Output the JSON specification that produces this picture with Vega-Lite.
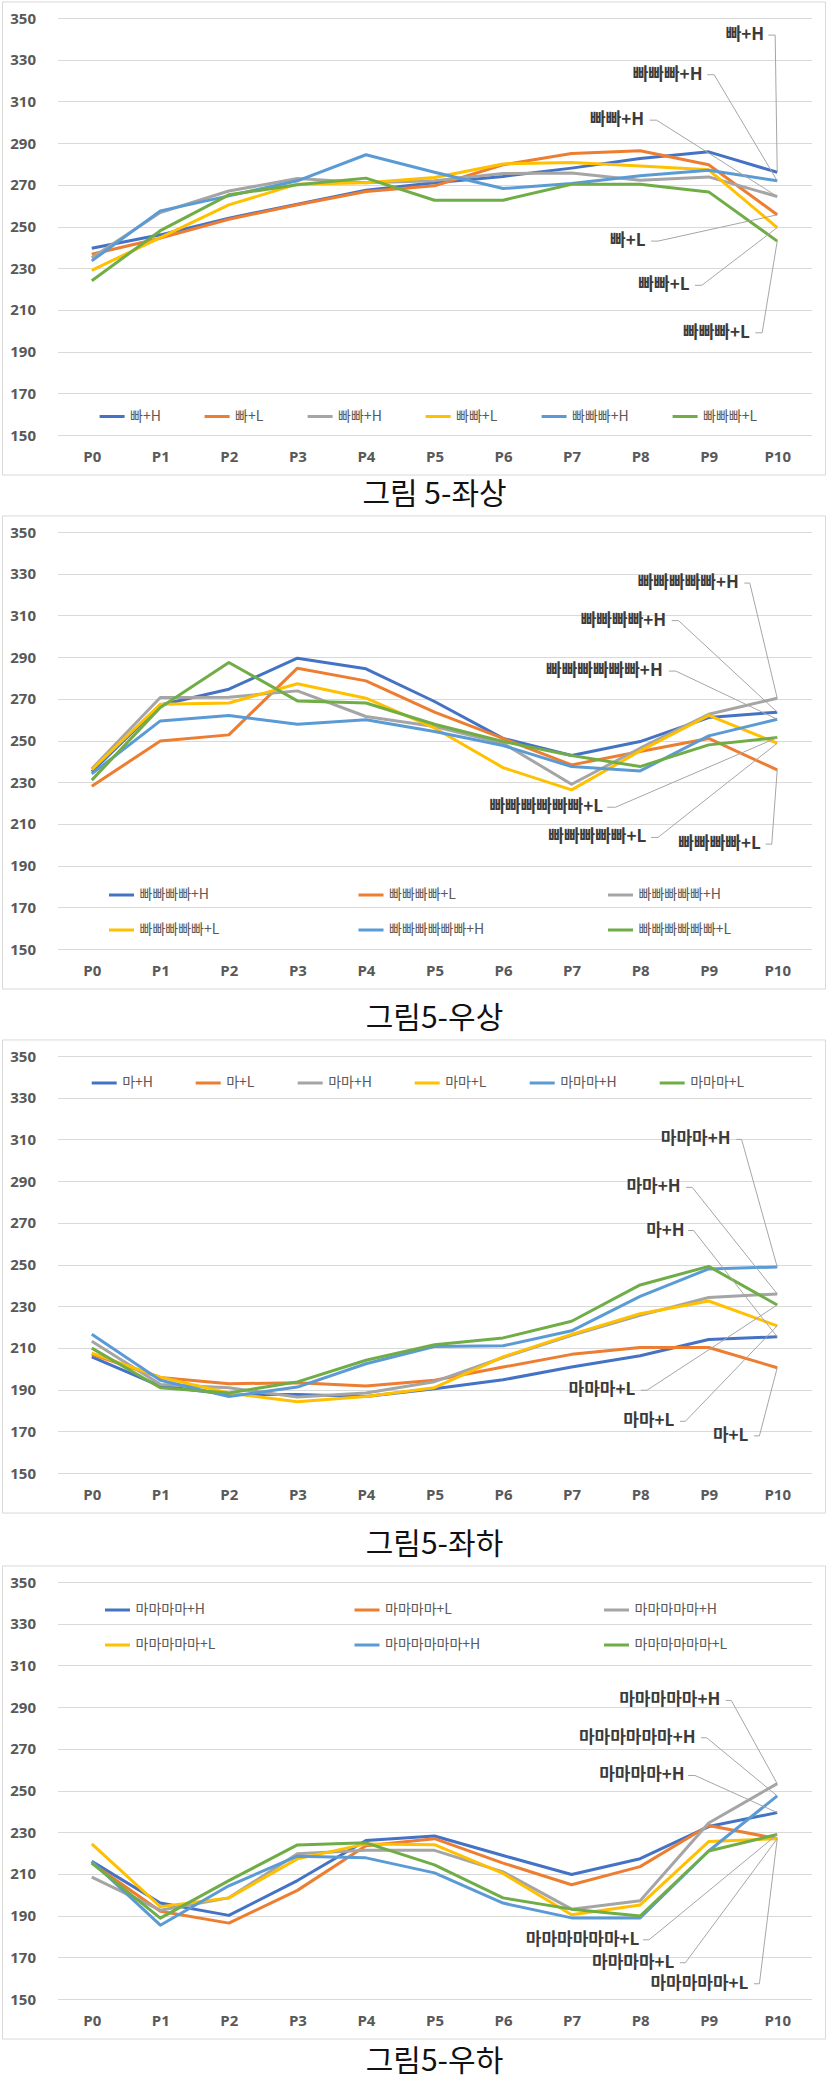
{
  "$schema": "https://vega.github.io/schema/vega-lite/v6.json",
  "background": "white",
  "padding": {"left": 1.5, "top": 1, "right": 2, "bottom": 0},
  "spacing": 5,
  "config": {
    "view": {"stroke": null},
    "title": {"font": "Noto Sans CJK KR", "fontSize": 30, "fontWeight": "normal", "color": "#111111", "anchor": "middle"},
    "axis": {"labelFont": "Open Sans", "labelFontSize": 15, "labelFontWeight": "bold", "labelColor": "#595959", "domain": false, "ticks": false, "tickSize": 0, "labelFlush": false, "labelOverlap": false},
    "legend": {"labelFont": "Noto Sans CJK KR", "labelFontSize": 14, "labelColor": "#595959", "symbolType": "stroke", "symbolSize": 625, "symbolStrokeWidth": 3, "labelOffset": 4, "padding": 0, "orient": "none", "direction": "horizontal", "title": null}
  },
  "resolve": {"scale": {"color": "independent"}, "legend": {"color": "independent"}},
  "datasets": {
    "s1": [
      {"s":"빠+H","p":0,"v":239.6},{"s":"빠+H","p":1,"v":246},{"s":"빠+H","p":2,"v":254},{"s":"빠+H","p":3,"v":260.7},{"s":"빠+H","p":4,"v":267.4},{"s":"빠+H","p":5,"v":271},{"s":"빠+H","p":6,"v":274},{"s":"빠+H","p":7,"v":278},{"s":"빠+H","p":8,"v":282.6},{"s":"빠+H","p":9,"v":285.8},{"s":"빠+H","p":10,"v":276},
      {"s":"빠+L","p":0,"v":236.7},{"s":"빠+L","p":1,"v":244.4},{"s":"빠+L","p":2,"v":253.5},{"s":"빠+L","p":3,"v":260.4},{"s":"빠+L","p":4,"v":266.8},{"s":"빠+L","p":5,"v":269.5},{"s":"빠+L","p":6,"v":279.6},{"s":"빠+L","p":7,"v":285},{"s":"빠+L","p":8,"v":286.3},{"s":"빠+L","p":9,"v":279.6},{"s":"빠+L","p":10,"v":255.6},
      {"s":"빠빠+H","p":0,"v":235},{"s":"빠빠+H","p":1,"v":256.7},{"s":"빠빠+H","p":2,"v":267},{"s":"빠빠+H","p":3,"v":273},{"s":"빠빠+H","p":4,"v":271},{"s":"빠빠+H","p":5,"v":272},{"s":"빠빠+H","p":6,"v":275.4},{"s":"빠빠+H","p":7,"v":275.7},{"s":"빠빠+H","p":8,"v":272.2},{"s":"빠빠+H","p":9,"v":273.8},{"s":"빠빠+H","p":10,"v":264.4},
      {"s":"빠빠+L","p":0,"v":229},{"s":"빠빠+L","p":1,"v":244.7},{"s":"빠빠+L","p":2,"v":260.4},{"s":"빠빠+L","p":3,"v":270.3},{"s":"빠빠+L","p":4,"v":271},{"s":"빠빠+L","p":5,"v":273.5},{"s":"빠빠+L","p":6,"v":280},{"s":"빠빠+L","p":7,"v":280.7},{"s":"빠빠+L","p":8,"v":279},{"s":"빠빠+L","p":9,"v":277.2},{"s":"빠빠+L","p":10,"v":249.5},
      {"s":"빠빠빠+H","p":0,"v":233.5},{"s":"빠빠빠+H","p":1,"v":257.5},{"s":"빠빠빠+H","p":2,"v":264.7},{"s":"빠빠빠+H","p":3,"v":271.9},{"s":"빠빠빠+H","p":4,"v":284.4},{"s":"빠빠빠+H","p":5,"v":276},{"s":"빠빠빠+H","p":6,"v":268.2},{"s":"빠빠빠+H","p":7,"v":270.6},{"s":"빠빠빠+H","p":8,"v":274.3},{"s":"빠빠빠+H","p":9,"v":277},{"s":"빠빠빠+H","p":10,"v":271.9},
      {"s":"빠빠빠+L","p":0,"v":224},{"s":"빠빠빠+L","p":1,"v":248},{"s":"빠빠빠+L","p":2,"v":265.2},{"s":"빠빠빠+L","p":3,"v":270},{"s":"빠빠빠+L","p":4,"v":273.2},{"s":"빠빠빠+L","p":5,"v":262.6},{"s":"빠빠빠+L","p":6,"v":262.6},{"s":"빠빠빠+L","p":7,"v":270.3},{"s":"빠빠빠+L","p":8,"v":270.3},{"s":"빠빠빠+L","p":9,"v":266.6},{"s":"빠빠빠+L","p":10,"v":243}
    ],
    "s2": [
      {"s":"빠빠빠빠+H","p":0,"v":235},{"s":"빠빠빠빠+H","p":1,"v":267},{"s":"빠빠빠빠+H","p":2,"v":274.6},{"s":"빠빠빠빠+H","p":3,"v":289.5},{"s":"빠빠빠빠+H","p":4,"v":284.4},{"s":"빠빠빠빠+H","p":5,"v":268.7},{"s":"빠빠빠빠+H","p":6,"v":251},{"s":"빠빠빠빠+H","p":7,"v":242.8},{"s":"빠빠빠빠+H","p":8,"v":249.5},{"s":"빠빠빠빠+H","p":9,"v":261},{"s":"빠빠빠빠+H","p":10,"v":263.6},
      {"s":"빠빠빠빠+L","p":0,"v":228},{"s":"빠빠빠빠+L","p":1,"v":249.8},{"s":"빠빠빠빠+L","p":2,"v":252.7},{"s":"빠빠빠빠+L","p":3,"v":284.7},{"s":"빠빠빠빠+L","p":4,"v":278.6},{"s":"빠빠빠빠+L","p":5,"v":263.6},{"s":"빠빠빠빠+L","p":6,"v":251},{"s":"빠빠빠빠+L","p":7,"v":238.3},{"s":"빠빠빠빠+L","p":8,"v":244.7},{"s":"빠빠빠빠+L","p":9,"v":251},{"s":"빠빠빠빠+L","p":10,"v":235.9},
      {"s":"빠빠빠빠빠+H","p":0,"v":236.4},{"s":"빠빠빠빠빠+H","p":1,"v":270.6},{"s":"빠빠빠빠빠+H","p":2,"v":270.8},{"s":"빠빠빠빠빠+H","p":3,"v":273.8},{"s":"빠빠빠빠빠+H","p":4,"v":261.5},{"s":"빠빠빠빠빠+H","p":5,"v":256.7},{"s":"빠빠빠빠빠+H","p":6,"v":248.7},{"s":"빠빠빠빠빠+H","p":7,"v":229},{"s":"빠빠빠빠빠+H","p":8,"v":246.3},{"s":"빠빠빠빠빠+H","p":9,"v":262.6},{"s":"빠빠빠빠빠+H","p":10,"v":270.3},
      {"s":"빠빠빠빠빠+L","p":0,"v":236},{"s":"빠빠빠빠빠+L","p":1,"v":267.4},{"s":"빠빠빠빠빠+L","p":2,"v":268},{"s":"빠빠빠빠빠+L","p":3,"v":277.2},{"s":"빠빠빠빠빠+L","p":4,"v":270.3},{"s":"빠빠빠빠빠+L","p":5,"v":256},{"s":"빠빠빠빠빠+L","p":6,"v":237},{"s":"빠빠빠빠빠+L","p":7,"v":226.3},{"s":"빠빠빠빠빠+L","p":8,"v":245},{"s":"빠빠빠빠빠+L","p":9,"v":262},{"s":"빠빠빠빠빠+L","p":10,"v":248.7},
      {"s":"빠빠빠빠빠빠+H","p":0,"v":234},{"s":"빠빠빠빠빠빠+H","p":1,"v":259.4},{"s":"빠빠빠빠빠빠+H","p":2,"v":262},{"s":"빠빠빠빠빠빠+H","p":3,"v":257.8},{"s":"빠빠빠빠빠빠+H","p":4,"v":260},{"s":"빠빠빠빠빠빠+H","p":5,"v":254.3},{"s":"빠빠빠빠빠빠+H","p":6,"v":247.6},{"s":"빠빠빠빠빠빠+H","p":7,"v":237.5},{"s":"빠빠빠빠빠빠+H","p":8,"v":235.4},{"s":"빠빠빠빠빠빠+H","p":9,"v":252.2},{"s":"빠빠빠빠빠빠+H","p":10,"v":260.2},
      {"s":"빠빠빠빠빠빠+L","p":0,"v":231},{"s":"빠빠빠빠빠빠+L","p":1,"v":265.8},{"s":"빠빠빠빠빠빠+L","p":2,"v":287.4},{"s":"빠빠빠빠빠빠+L","p":3,"v":269},{"s":"빠빠빠빠빠빠+L","p":4,"v":268},{"s":"빠빠빠빠빠빠+L","p":5,"v":257.8},{"s":"빠빠빠빠빠빠+L","p":6,"v":249.5},{"s":"빠빠빠빠빠빠+L","p":7,"v":242.8},{"s":"빠빠빠빠빠빠+L","p":8,"v":237.5},{"s":"빠빠빠빠빠빠+L","p":9,"v":247.9},{"s":"빠빠빠빠빠빠+L","p":10,"v":251.4}
    ],
    "s3": [
      {"s":"마+H","p":0,"v":205.7},{"s":"마+H","p":1,"v":191.7},{"s":"마+H","p":2,"v":187.6},{"s":"마+H","p":3,"v":187.6},{"s":"마+H","p":4,"v":186.7},{"s":"마+H","p":5,"v":190.4},{"s":"마+H","p":6,"v":194.7},{"s":"마+H","p":7,"v":200.8},{"s":"마+H","p":8,"v":206.2},{"s":"마+H","p":9,"v":214},{"s":"마+H","p":10,"v":215.3},
      {"s":"마+L","p":0,"v":206.9},{"s":"마+L","p":1,"v":195.8},{"s":"마+L","p":2,"v":192.8},{"s":"마+L","p":3,"v":193.3},{"s":"마+L","p":4,"v":191.7},{"s":"마+L","p":5,"v":194.5},{"s":"마+L","p":6,"v":200.8},{"s":"마+L","p":7,"v":206.9},{"s":"마+L","p":8,"v":210.2},{"s":"마+L","p":9,"v":210.2},{"s":"마+L","p":10,"v":200.5},
      {"s":"마마+H","p":0,"v":213.2},{"s":"마마+H","p":1,"v":192.5},{"s":"마마+H","p":2,"v":190.9},{"s":"마마+H","p":3,"v":186.4},{"s":"마마+H","p":4,"v":188.4},{"s":"마마+H","p":5,"v":193.8},{"s":"마마+H","p":6,"v":205.4},{"s":"마마+H","p":7,"v":216},{"s":"마마+H","p":8,"v":225.6},{"s":"마마+H","p":9,"v":234.2},{"s":"마마+H","p":10,"v":235.9},
      {"s":"마마+L","p":0,"v":207.5},{"s":"마마+L","p":1,"v":196},{"s":"마마+L","p":2,"v":188.4},{"s":"마마+L","p":3,"v":184.2},{"s":"마마+L","p":4,"v":186.7},{"s":"마마+L","p":5,"v":190.9},{"s":"마마+L","p":6,"v":205.7},{"s":"마마+L","p":7,"v":216.5},{"s":"마마+L","p":8,"v":226.4},{"s":"마마+L","p":9,"v":232.5},{"s":"마마+L","p":10,"v":220.6},
      {"s":"마마마+H","p":0,"v":216.5},{"s":"마마마+H","p":1,"v":194.5},{"s":"마마마+H","p":2,"v":186.7},{"s":"마마마+H","p":3,"v":191.2},{"s":"마마마+H","p":4,"v":202.4},{"s":"마마마+H","p":5,"v":210.7},{"s":"마마마+H","p":6,"v":211},{"s":"마마마+H","p":7,"v":218.2},{"s":"마마마+H","p":8,"v":234.7},{"s":"마마마+H","p":9,"v":247.9},{"s":"마마마+H","p":10,"v":248.8},
      {"s":"마마마+L","p":0,"v":209.9},{"s":"마마마+L","p":1,"v":190.9},{"s":"마마마+L","p":2,"v":188.4},{"s":"마마마+L","p":3,"v":193.7},{"s":"마마마+L","p":4,"v":204.1},{"s":"마마마+L","p":5,"v":211.5},{"s":"마마마+L","p":6,"v":214.8},{"s":"마마마+L","p":7,"v":222.8},{"s":"마마마+L","p":8,"v":240.2},{"s":"마마마+L","p":9,"v":249.1},{"s":"마마마+L","p":10,"v":230.6}
    ],
    "s4": [
      {"s":"마마마마+H","p":0,"v":216},{"s":"마마마마+H","p":1,"v":196},{"s":"마마마마+H","p":2,"v":190.1},{"s":"마마마마+H","p":3,"v":206.8},{"s":"마마마마+H","p":4,"v":226},{"s":"마마마마+H","p":5,"v":228.2},{"s":"마마마마+H","p":6,"v":218.8},{"s":"마마마마+H","p":7,"v":209.7},{"s":"마마마마+H","p":8,"v":217.3},{"s":"마마마마+H","p":9,"v":232.7},{"s":"마마마마+H","p":10,"v":239.4},
      {"s":"마마마마+L","p":0,"v":215.2},{"s":"마마마마+L","p":1,"v":192.1},{"s":"마마마마+L","p":2,"v":186.4},{"s":"마마마마+L","p":3,"v":202.1},{"s":"마마마마+L","p":4,"v":223.5},{"s":"마마마마+L","p":5,"v":226.9},{"s":"마마마마+L","p":6,"v":215.2},{"s":"마마마마+L","p":7,"v":204.8},{"s":"마마마마+L","p":8,"v":213.5},{"s":"마마마마+L","p":9,"v":233.2},{"s":"마마마마+L","p":10,"v":226.9},
      {"s":"마마마마마+H","p":0,"v":208.5},{"s":"마마마마마+H","p":1,"v":192.6},{"s":"마마마마마+H","p":2,"v":198.5},{"s":"마마마마마+H","p":3,"v":219.7},{"s":"마마마마마+H","p":4,"v":221.3},{"s":"마마마마마+H","p":5,"v":221.3},{"s":"마마마마마+H","p":6,"v":211},{"s":"마마마마마+H","p":7,"v":193.1},{"s":"마마마마마+H","p":8,"v":197.1},{"s":"마마마마마+H","p":9,"v":234.4},{"s":"마마마마마+H","p":10,"v":253.3},
      {"s":"마마마마마+L","p":0,"v":224.4},{"s":"마마마마마+L","p":1,"v":194.3},{"s":"마마마마마+L","p":2,"v":198.5},{"s":"마마마마마+L","p":3,"v":217.2},{"s":"마마마마마+L","p":4,"v":224.4},{"s":"마마마마마+L","p":5,"v":224},{"s":"마마마마마+L","p":6,"v":210.2},{"s":"마마마마마+L","p":7,"v":190.4},{"s":"마마마마마+L","p":8,"v":195.1},{"s":"마마마마마+L","p":9,"v":225.5},{"s":"마마마마마+L","p":10,"v":226.9},
      {"s":"마마마마마마+H","p":0,"v":216},{"s":"마마마마마마+H","p":1,"v":185.4},{"s":"마마마마마마+H","p":2,"v":204.3},{"s":"마마마마마마+H","p":3,"v":218.5},{"s":"마마마마마마+H","p":4,"v":217.7},{"s":"마마마마마마+H","p":5,"v":210.5},{"s":"마마마마마마+H","p":6,"v":196},{"s":"마마마마마마+H","p":7,"v":188.9},{"s":"마마마마마마+H","p":8,"v":188.9},{"s":"마마마마마마+H","p":9,"v":221},{"s":"마마마마마마+H","p":10,"v":247.4},
      {"s":"마마마마마마+L","p":0,"v":215.2},{"s":"마마마마마마+L","p":1,"v":188.8},{"s":"마마마마마마+L","p":2,"v":206.8},{"s":"마마마마마마+L","p":3,"v":223.9},{"s":"마마마마마마+L","p":4,"v":224.9},{"s":"마마마마마마+L","p":5,"v":214.3},{"s":"마마마마마마+L","p":6,"v":198.5},{"s":"마마마마마마+L","p":7,"v":193.1},{"s":"마마마마마마+L","p":8,"v":189.8},{"s":"마마마마마마+L","p":9,"v":221},{"s":"마마마마마마+L","p":10,"v":228.9}
    ],
    "a1": [
      {"label":"빠+H","tx":9.81,"ty":341.8,"l1":9.87,"l2":9.97,"ey":276},
      {"label":"빠빠빠+H","tx":8.91,"ty":322.8,"l1":8.98,"l2":9.08,"ey":271.9},
      {"label":"빠빠+H","tx":8.06,"ty":301,"l1":8.14,"l2":8.24,"ey":264.4},
      {"label":"빠+L","tx":8.08,"ty":243,"l1":8.16,"l2":8.26,"ey":255.6},
      {"label":"빠빠+L","tx":8.72,"ty":221.8,"l1":8.8,"l2":8.9,"ey":249.5},
      {"label":"빠빠빠+L","tx":9.6,"ty":199,"l1":9.68,"l2":9.78,"ey":243}
    ],
    "a2": [
      {"label":"빠빠빠빠빠+H","tx":9.44,"ty":325.5,"l1":9.52,"l2":9.6,"ey":270.3},
      {"label":"빠빠빠빠+H","tx":8.38,"ty":307.5,"l1":8.46,"l2":8.56,"ey":263.6},
      {"label":"빠빠빠빠빠빠+H","tx":8.33,"ty":283.3,"l1":8.42,"l2":8.52,"ey":260.2},
      {"label":"빠빠빠빠빠빠+L","tx":7.46,"ty":218,"l1":7.52,"l2":7.64,"ey":251.4},
      {"label":"빠빠빠빠빠+L","tx":8.09,"ty":203.5,"l1":8.16,"l2":8.26,"ey":248.7},
      {"label":"빠빠빠빠+L","tx":9.76,"ty":200.3,"l1":9.83,"l2":9.92,"ey":235.9}
    ],
    "a3": [
      {"label":"마마마+H","tx":9.32,"ty":310,"l1":9.4,"l2":9.48,"ey":248.8},
      {"label":"마마+H","tx":8.59,"ty":287,"l1":8.67,"l2":8.76,"ey":235.9},
      {"label":"마+H","tx":8.65,"ty":266.3,"l1":8.7,"l2":8.78,"ey":215.3},
      {"label":"마마마+L","tx":7.93,"ty":189.7,"l1":8.01,"l2":8.1,"ey":230.6},
      {"label":"마마+L","tx":8.5,"ty":174.8,"l1":8.58,"l2":8.66,"ey":220.6},
      {"label":"마+L","tx":9.58,"ty":167.8,"l1":9.66,"l2":9.74,"ey":200.5}
    ],
    "a4": [
      {"label":"마마마마마+H","tx":9.17,"ty":293.2,"l1":9.25,"l2":9.33,"ey":253.3},
      {"label":"마마마마마마+H","tx":8.81,"ty":275.3,"l1":8.89,"l2":8.97,"ey":247.4},
      {"label":"마마마마+H","tx":8.65,"ty":257.2,"l1":8.7,"l2":8.8,"ey":239.4},
      {"label":"마마마마마마+L","tx":7.99,"ty":178.4,"l1":8.04,"l2":8.13,"ey":228.9},
      {"label":"마마마마+L","tx":8.5,"ty":167.4,"l1":8.58,"l2":8.66,"ey":226.9},
      {"label":"마마마마마+L","tx":9.58,"ty":157.3,"l1":9.66,"l2":9.74,"ey":226.9}
    ]
  },
  "vconcat": [
    {
      "width": 754, "height": 417,
      "title": {"text": "그림 5-좌상", "orient": "bottom", "offset": 4},
      "layer": [
        {"data": {"values": [{}]}, "mark": {"type": "rect", "fill": "transparent", "stroke": "#d9d9d9", "strokeWidth": 1},
         "encoding": {"x": {"datum": -1.302, "type": "quantitative", "scale": {"domain": [-0.5, 10.5], "nice": false, "zero": false}, "title": null}, "x2": {"datum": 10.704},
                      "y": {"datum": 357.7, "type": "quantitative", "scale": {"domain": [150, 350], "nice": false, "zero": false}, "title": null}, "y2": {"datum": 130.8}}},
        {"data": {"name": "s1"}, "mark": {"type": "line", "strokeWidth": 3, "strokeJoin": "round"},
         "encoding": {
           "x": {"field": "p", "type": "quantitative", "title": null, "scale": {"domain": [-0.5, 10.5], "nice": false, "zero": false}, "axis": {"values": [0,1,2,3,4,5,6,7,8,9,10], "labelExpr": "'P' + datum.value", "grid": false, "labelPadding": 14}},
           "y": {"field": "v", "type": "quantitative", "title": null, "scale": {"domain": [150, 350], "nice": false, "zero": false}, "axis": {"values": [150,170,190,210,230,250,270,290,310,330,350], "grid": true, "gridColor": "#d9d9d9", "labelPadding": 22}},
           "color": {"field": "s", "type": "nominal", "scale": {"domain": ["빠+H","빠+L","빠빠+H","빠빠+L","빠빠빠+H","빠빠빠+L"], "range": ["#4472C4","#ED7D31","#A5A5A5","#FFC000","#5B9BD5","#70AD47"]},
                     "legend": {"legendX": 40.6, "legendY": 384.5, "columns": 6, "columnPadding": 37}}
         }},
        {"data": {"name": "a1"}, "mark": {"type": "rule", "color": "#a6a6a6", "strokeWidth": 1},
         "encoding": {"x": {"field": "l1", "type": "quantitative", "title": null}, "x2": {"field": "l2"}, "y": {"field": "ty", "type": "quantitative", "title": null}}},
        {"data": {"name": "a1"}, "mark": {"type": "rule", "color": "#a6a6a6", "strokeWidth": 1},
         "encoding": {"x": {"field": "l2", "type": "quantitative", "title": null}, "x2": {"datum": 10}, "y": {"field": "ty", "type": "quantitative", "title": null}, "y2": {"field": "ey"}}},
        {"data": {"name": "a1"}, "mark": {"type": "text", "align": "right", "baseline": "middle", "font": "Noto Sans CJK KR", "fontSize": 17, "fontWeight": "bold", "color": "#3b3b3b"},
         "encoding": {"x": {"field": "tx", "type": "quantitative", "title": null}, "y": {"field": "ty", "type": "quantitative", "title": null}, "text": {"field": "label"}}}
      ]
    },
    {
      "width": 754, "height": 417,
      "title": {"text": "그림5-우상", "orient": "bottom", "offset": 14},
      "layer": [
        {"data": {"values": [{}]}, "mark": {"type": "rect", "fill": "transparent", "stroke": "#d9d9d9", "strokeWidth": 1},
         "encoding": {"x": {"datum": -1.302, "type": "quantitative", "scale": {"domain": [-0.5, 10.5], "nice": false, "zero": false}, "title": null}, "x2": {"datum": 10.704},
                      "y": {"datum": 357.7, "type": "quantitative", "scale": {"domain": [150, 350], "nice": false, "zero": false}, "title": null}, "y2": {"datum": 130.8}}},
        {"data": {"name": "s2"}, "mark": {"type": "line", "strokeWidth": 3, "strokeJoin": "round"},
         "encoding": {
           "x": {"field": "p", "type": "quantitative", "title": null, "scale": {"domain": [-0.5, 10.5], "nice": false, "zero": false}, "axis": {"values": [0,1,2,3,4,5,6,7,8,9,10], "labelExpr": "'P' + datum.value", "grid": false, "labelPadding": 14}},
           "y": {"field": "v", "type": "quantitative", "title": null, "scale": {"domain": [150, 350], "nice": false, "zero": false}, "axis": {"values": [150,170,190,210,230,250,270,290,310,330,350], "grid": true, "gridColor": "#d9d9d9", "labelPadding": 22}},
           "color": {"field": "s", "type": "nominal", "scale": {"domain": ["빠빠빠빠+H","빠빠빠빠+L","빠빠빠빠빠+H","빠빠빠빠빠+L","빠빠빠빠빠빠+H","빠빠빠빠빠빠+L"], "range": ["#4472C4","#ED7D31","#A5A5A5","#FFC000","#5B9BD5","#70AD47"]},
                     "legend": {"legendX": 50, "legendY": 349, "columns": 3, "gridAlign": "all", "columnPadding": 116.5, "rowPadding": 14}}
         }},
        {"data": {"name": "a2"}, "mark": {"type": "rule", "color": "#a6a6a6", "strokeWidth": 1},
         "encoding": {"x": {"field": "l1", "type": "quantitative", "title": null}, "x2": {"field": "l2"}, "y": {"field": "ty", "type": "quantitative", "title": null}}},
        {"data": {"name": "a2"}, "mark": {"type": "rule", "color": "#a6a6a6", "strokeWidth": 1},
         "encoding": {"x": {"field": "l2", "type": "quantitative", "title": null}, "x2": {"datum": 10}, "y": {"field": "ty", "type": "quantitative", "title": null}, "y2": {"field": "ey"}}},
        {"data": {"name": "a2"}, "mark": {"type": "text", "align": "right", "baseline": "middle", "font": "Noto Sans CJK KR", "fontSize": 17, "fontWeight": "bold", "color": "#3b3b3b"},
         "encoding": {"x": {"field": "tx", "type": "quantitative", "title": null}, "y": {"field": "ty", "type": "quantitative", "title": null}, "text": {"field": "label"}}}
      ]
    },
    {
      "width": 754, "height": 417,
      "title": {"text": "그림5-좌하", "orient": "bottom", "offset": 16},
      "layer": [
        {"data": {"values": [{}]}, "mark": {"type": "rect", "fill": "transparent", "stroke": "#d9d9d9", "strokeWidth": 1},
         "encoding": {"x": {"datum": -1.302, "type": "quantitative", "scale": {"domain": [-0.5, 10.5], "nice": false, "zero": false}, "title": null}, "x2": {"datum": 10.704},
                      "y": {"datum": 357.7, "type": "quantitative", "scale": {"domain": [150, 350], "nice": false, "zero": false}, "title": null}, "y2": {"datum": 130.8}}},
        {"data": {"name": "s3"}, "mark": {"type": "line", "strokeWidth": 3, "strokeJoin": "round"},
         "encoding": {
           "x": {"field": "p", "type": "quantitative", "title": null, "scale": {"domain": [-0.5, 10.5], "nice": false, "zero": false}, "axis": {"values": [0,1,2,3,4,5,6,7,8,9,10], "labelExpr": "'P' + datum.value", "grid": false, "labelPadding": 14}},
           "y": {"field": "v", "type": "quantitative", "title": null, "scale": {"domain": [150, 350], "nice": false, "zero": false}, "axis": {"values": [150,170,190,210,230,250,270,290,310,330,350], "grid": true, "gridColor": "#d9d9d9", "labelPadding": 22}},
           "color": {"field": "s", "type": "nominal", "scale": {"domain": ["마+H","마+L","마마+H","마마+L","마마마+H","마마마+L"], "range": ["#4472C4","#ED7D31","#A5A5A5","#FFC000","#5B9BD5","#70AD47"]},
                     "legend": {"legendX": 32.7, "legendY": 13, "columns": 6, "columnPadding": 36}}
         }},
        {"data": {"name": "a3"}, "mark": {"type": "rule", "color": "#a6a6a6", "strokeWidth": 1},
         "encoding": {"x": {"field": "l1", "type": "quantitative", "title": null}, "x2": {"field": "l2"}, "y": {"field": "ty", "type": "quantitative", "title": null}}},
        {"data": {"name": "a3"}, "mark": {"type": "rule", "color": "#a6a6a6", "strokeWidth": 1},
         "encoding": {"x": {"field": "l2", "type": "quantitative", "title": null}, "x2": {"datum": 10}, "y": {"field": "ty", "type": "quantitative", "title": null}, "y2": {"field": "ey"}}},
        {"data": {"name": "a3"}, "mark": {"type": "text", "align": "right", "baseline": "middle", "font": "Noto Sans CJK KR", "fontSize": 17, "fontWeight": "bold", "color": "#3b3b3b"},
         "encoding": {"x": {"field": "tx", "type": "quantitative", "title": null}, "y": {"field": "ty", "type": "quantitative", "title": null}, "text": {"field": "label"}}}
      ]
    },
    {
      "width": 754, "height": 417,
      "title": {"text": "그림5-우하", "orient": "bottom", "offset": 7},
      "layer": [
        {"data": {"values": [{}]}, "mark": {"type": "rect", "fill": "transparent", "stroke": "#d9d9d9", "strokeWidth": 1},
         "encoding": {"x": {"datum": -1.302, "type": "quantitative", "scale": {"domain": [-0.5, 10.5], "nice": false, "zero": false}, "title": null}, "x2": {"datum": 10.704},
                      "y": {"datum": 357.7, "type": "quantitative", "scale": {"domain": [150, 350], "nice": false, "zero": false}, "title": null}, "y2": {"datum": 130.8}}},
        {"data": {"name": "s4"}, "mark": {"type": "line", "strokeWidth": 3, "strokeJoin": "round"},
         "encoding": {
           "x": {"field": "p", "type": "quantitative", "title": null, "scale": {"domain": [-0.5, 10.5], "nice": false, "zero": false}, "axis": {"values": [0,1,2,3,4,5,6,7,8,9,10], "labelExpr": "'P' + datum.value", "grid": false, "labelPadding": 14}},
           "y": {"field": "v", "type": "quantitative", "title": null, "scale": {"domain": [150, 350], "nice": false, "zero": false}, "axis": {"values": [150,170,190,210,230,250,270,290,310,330,350], "grid": true, "gridColor": "#d9d9d9", "labelPadding": 22}},
           "color": {"field": "s", "type": "nominal", "scale": {"domain": ["마마마마+H","마마마마+L","마마마마마+H","마마마마마+L","마마마마마마+H","마마마마마마+L"], "range": ["#4472C4","#ED7D31","#A5A5A5","#FFC000","#5B9BD5","#70AD47"]},
                     "legend": {"legendX": 46, "legendY": 14, "columns": 3, "gridAlign": "all", "columnPadding": 116.5, "rowPadding": 14}}
         }},
        {"data": {"name": "a4"}, "mark": {"type": "rule", "color": "#a6a6a6", "strokeWidth": 1},
         "encoding": {"x": {"field": "l1", "type": "quantitative", "title": null}, "x2": {"field": "l2"}, "y": {"field": "ty", "type": "quantitative", "title": null}}},
        {"data": {"name": "a4"}, "mark": {"type": "rule", "color": "#a6a6a6", "strokeWidth": 1},
         "encoding": {"x": {"field": "l2", "type": "quantitative", "title": null}, "x2": {"datum": 10}, "y": {"field": "ty", "type": "quantitative", "title": null}, "y2": {"field": "ey"}}},
        {"data": {"name": "a4"}, "mark": {"type": "text", "align": "right", "baseline": "middle", "font": "Noto Sans CJK KR", "fontSize": 17, "fontWeight": "bold", "color": "#3b3b3b"},
         "encoding": {"x": {"field": "tx", "type": "quantitative", "title": null}, "y": {"field": "ty", "type": "quantitative", "title": null}, "text": {"field": "label"}}}
      ]
    }
  ]
}
